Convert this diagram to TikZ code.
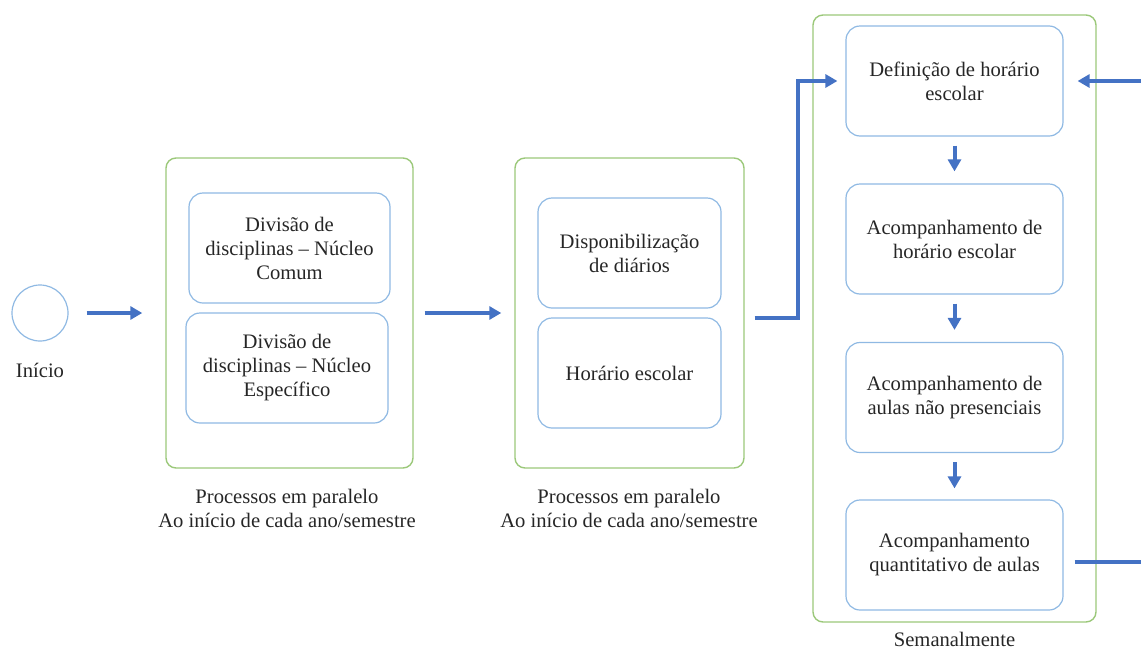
\documentclass[tikz,border=0pt]{standalone}
\usepackage{fontspec}
\setmainfont{Liberation Serif}
\usetikzlibrary{arrows.meta}
\definecolor{flowblue}{HTML}{4472C4}
\definecolor{boxblue}{HTML}{8FB9E3}
\definecolor{groupgreen}{HTML}{9BC87A}
\begin{document}
\begin{tikzpicture}[x=1pt,y=-1pt,
  every node/.style={font=\fontsize{20.6}{24}\selectfont, text=black!85},
  task/.style={draw=boxblue, line width=1.2pt, rounded corners=14pt, align=center,
    minimum width=#1, minimum height=110pt, inner sep=0pt},
  task/.default=201pt,
  group/.style={draw=groupgreen, line width=1.4pt, rounded corners=10pt, inner sep=0pt},
  flow/.style={draw=flowblue, line width=4pt, -{Triangle[length=12pt,width=13pt]}},
  flowline/.style={draw=flowblue, line width=4pt},
  caption/.style={align=center}]
\useasboundingbox (0,0) rectangle (1141,651);

% start event
\node[circle, draw=boxblue, line width=1.2pt, minimum size=56pt, inner sep=0pt] (start) at (40,313) {};
\node[caption] (startlbl) at (40,370) {Início};

% first parallel group
\node[group, minimum width=247pt, minimum height=310pt] (g1) at (289.5,313) {};
\node[task] (t1) at (289.5,248) {Divisão de\\disciplinas – Núcleo\\Comum};
\node[task=202pt] (t2) at (287,368) {Divisão de\\disciplinas – Núcleo\\Específico};
\node[caption] (c1) at (287,508) {Processos em paralelo\\Ao início de cada ano/semestre};

% second parallel group
\node[group, minimum width=229pt, minimum height=310pt] (g2) at (629.5,313) {};
\node[task=183pt] (t3) at (629.5,253) {Disponibilização\\de diários};
\node[task=183pt] (t4) at (629.5,373) {Horário escolar};
\node[caption] (c2) at (629,508) {Processos em paralelo\\Ao início de cada ano/semestre};

% weekly group
\node[group, minimum width=283pt, minimum height=607pt] (g3) at (954.5,318.5) {};
\node[task=217pt] (w1) at (954.5,81) {Definição de horário\\escolar};
\node[task=217pt] (w2) at (954.5,239) {Acompanhamento de\\horário escolar};
\node[task=217pt] (w3) at (954.5,397.5) {Acompanhamento de\\aulas não presenciais};
\node[task=217pt] (w4) at (954.5,555) {Acompanhamento\\quantitativo de aulas};
\node[caption] (c3) at (954.5,639) {Semanalmente};

% connectors
\draw[flow] ([xshift=18pt]start.east) -- ([xshift=-23pt]g1.west);
\draw[flow] ([xshift=11pt]g1.east) -- ([xshift=-13pt]g2.west);
\draw[flow] ([xshift=10pt,yshift=-5pt]g2.east) -- ++(43,0) |- ([xshift=-8pt]w1.west);
\draw[flow] ([yshift=-9pt]w1.south) -- ([yshift=12pt]w2.north);
\draw[flow] ([yshift=-9pt]w2.south) -- ([yshift=12pt]w3.north);
\draw[flow] ([yshift=-9pt]w3.south) -- ([yshift=11pt]w4.north);

% feedback loop leaving the page on the right
\coordinate (loopfrom) at ([xshift=11pt,yshift=-7pt]w4.east);
\coordinate (loopdown) at (1160,0 |- loopfrom);
\coordinate (loopup) at (1160,0 |- w1.east);
\draw[flowline] (loopfrom) -- (loopdown) -- (loopup) -- ++(-10,0);
\draw[flow] (loopup) -- ([xshift=14pt]w1.east);
\end{tikzpicture}
\end{document}
